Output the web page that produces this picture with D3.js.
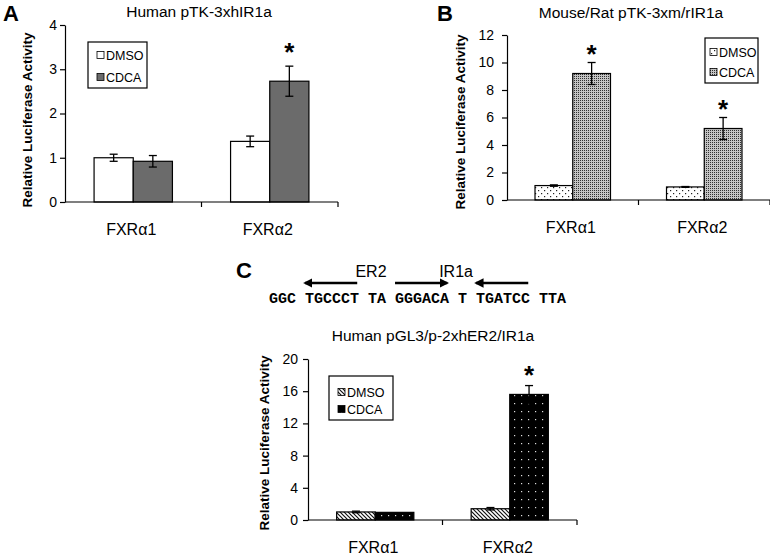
<!DOCTYPE html>
<html>
<head>
<meta charset="utf-8">
<script src="https://cdn.jsdelivr.net/npm/d3@7/dist/d3.min.js"></script>
<style>
body { margin: 0; background: #fff; }
svg text { font-family: Arial, "Liberation Sans", sans-serif; fill: #000; }
</style>
</head>
<body>
<svg id="fig" width="770" height="555"></svg>
<script>
"use strict";

var categories = ["FXRα1", "FXRα2"];
var seriesNames = ["DMSO", "CDCA"];

// Panel A - Human pTK-3xhIR1a
var aDmso = [1.00, 1.37], aDmsoErr = [0.08, 0.12];
var aCdca = [0.92, 2.73], aCdcaErr = [0.13, 0.34];
var aStars = [false, true];
var aTicks = [0, 1, 2, 3, 4];

// Panel B - Mouse/Rat pTK-3xm/rIR1a
var bDmso = [1.05, 0.95], bDmsoErr = [0.05, 0.03];
var bCdca = [9.2, 5.2], bCdcaErr = [0.8, 0.8];
var bStars = [true, true];
var bTicks = [0, 2, 4, 6, 8, 10, 12];

// Panel C - Human pGL3/p-2xhER2/IR1a
var cDmso = [1.0, 1.4], cDmsoErr = [0.1, 0.15];
var cCdca = [0.95, 15.6], cCdcaErr = [0, 1.1];
var cStars = [false, true];
var cTicks = [0, 4, 8, 12, 16, 20];

// promoter sequence above panel C, with the three half sites
var sequence = "GGC TGCCCT TA GGGACA T TGATCC TTA";
var halfSites = [
	{start: 4, len: 6, dir: -1},  // TGCCCT
	{start: 14, len: 6, dir: 1},  // GGGACA
	{start: 23, len: 6, dir: -1}  // TGATCC
];
var siteLabels = [{text: "ER2", at: 9.6}, {text: "IR1a", at: 18.9}];

var svg = d3.select("#fig");
var defs = svg.append("defs");

// Fill patterns, roughly what Excel gave
function makePattern(id, w, h, bg, build) {
	var p = defs.append("pattern")
		.attr("id", id)
		.attr("patternUnits", "userSpaceOnUse")
		.attr("width", w)
		.attr("height", h);
	p.append("rect").attr("width", w).attr("height", h).attr("fill", bg);
	build(p);
}
makePattern("sparseDots", 6, 6, "#fff", function(p) {
	p.append("rect").attr("x", 1).attr("y", 1).attr("width", 1.2).attr("height", 1.2).attr("fill", "#222");
	p.append("rect").attr("x", 4).attr("y", 4).attr("width", 1.2).attr("height", 1.2).attr("fill", "#222");
});
makePattern("denseDots", 2, 2, "#c4c4c4", function(p) {
	p.append("rect").attr("width", 1).attr("height", 1).attr("fill", "#303030");
});
makePattern("hatch", 4, 4, "#fff", function(p) {
	p.append("path").attr("d", "M-1,-1 L5,5 M-1,3 L1,5 M3,-1 L5,1")
		.attr("stroke", "#111").attr("stroke-width", 1.2);
});
makePattern("blackDots", 7, 8, "#000", function(p) {
	p.append("rect").attr("x", 3).attr("y", 3).attr("width", 1.2).attr("height", 1.2).attr("fill", "#ddd");
});

function drawPanel(p) {
	var g = svg.append("g");
	var x0 = d3.scaleBand().domain(categories).range([p.left, p.right]);
	var bw = x0.bandwidth();
	var x1 = d3.scaleBand().domain(seriesNames).range([bw * 0.213, bw * 0.787]);
	var y = d3.scaleLinear().domain([0, d3.max(p.ticks)]).range([p.bottom, p.top]);

	var rows = [];
	categories.forEach(function(c, i) {
		rows.push({cat: c, s: "DMSO", v: p.dmso[i], e: p.dmsoErr[i], star: false});
		rows.push({cat: c, s: "CDCA", v: p.cdca[i], e: p.cdcaErr[i], star: p.stars[i]});
	});

	// bars
	g.selectAll("rect.bar")
		.data(rows)
		.enter()
		.append("rect")
		.attr("class", "bar")
		.attr("x", function(d) { return x0(d.cat) + x1(d.s); })
		.attr("y", function(d) { return y(d.v); })
		.attr("width", x1.bandwidth())
		.attr("height", function(d) { return y(0) - y(d.v); })
		.attr("fill", function(d) { return p.fills[d.s]; })
		.attr("stroke", "#000")
		.attr("stroke-width", 1.2);

	// error bars
	var err = g.selectAll("g.err")
		.data(rows.filter(function(d) { return d.e > 0; }))
		.enter()
		.append("g")
		.attr("class", "err")
		.attr("transform", function(d) { return "translate(" + (x0(d.cat) + x1(d.s) + x1.bandwidth() / 2) + ",0)"; })
		.attr("stroke", "#000")
		.attr("stroke-width", 1.3);
	err.append("line")
		.attr("y1", function(d) { return y(d.v + d.e); })
		.attr("y2", function(d) { return y(d.v - d.e); });
	err.append("line")
		.attr("x1", -4).attr("x2", 4)
		.attr("y1", function(d) { return y(d.v + d.e); })
		.attr("y2", function(d) { return y(d.v + d.e); });
	err.append("line")
		.attr("x1", -4).attr("x2", 4)
		.attr("y1", function(d) { return y(d.v - d.e); })
		.attr("y2", function(d) { return y(d.v - d.e); });

	// significance stars
	g.selectAll("text.star")
		.data(rows.filter(function(d) { return d.star; }))
		.enter()
		.append("text")
		.attr("class", "star")
		.attr("x", function(d) { return x0(d.cat) + x1(d.s) + x1.bandwidth() / 2; })
		.attr("y", function(d) { return y(d.v + d.e) + p.starGap; })
		.attr("text-anchor", "middle")
		.style("font-size", "26px")
		.style("font-weight", "bold")
		.text("*");

	// y axis
	var yAxis = g.append("g")
		.attr("transform", "translate(" + p.left + ",0)")
		.call(d3.axisLeft(y).tickValues(p.ticks).tickFormat(d3.format("d"))
			.tickSize(5).tickSizeOuter(0).tickPadding(p.tickPad));
	yAxis.attr("font-size", null).attr("font-family", null);
	yAxis.selectAll("text").style("font-size", "14px");
	yAxis.selectAll("line, path").attr("stroke", "#000").attr("stroke-width", 1.2);

	// x axis with category boundary ticks
	g.append("line")
		.attr("x1", p.left).attr("x2", p.right)
		.attr("y1", y(0)).attr("y2", y(0))
		.attr("stroke", "#000").attr("stroke-width", 1.2);
	g.selectAll("line.xtick")
		.data(categories)
		.enter()
		.append("line")
		.attr("class", "xtick")
		.attr("x1", function(c) { return x0(c) + bw; })
		.attr("x2", function(c) { return x0(c) + bw; })
		.attr("y1", y(0)).attr("y2", y(0) + 5)
		.attr("stroke", "#000").attr("stroke-width", 1.2);
	g.selectAll("text.cat")
		.data(categories)
		.enter()
		.append("text")
		.attr("class", "cat")
		.attr("x", function(c) { return x0(c) + bw / 2 - 2; })
		.attr("y", y(0) + 33)
		.attr("text-anchor", "middle")
		.style("font-size", "16px")
		.text(function(c) { return c; });

	// y label
	g.append("text")
		.attr("transform", "translate(" + p.ylabX + "," + p.ylabY + ") rotate(-90)")
		.attr("text-anchor", "middle")
		.style("font-size", "13.5px")
		.style("font-weight", "bold")
		.text("Relative Luciferase Activity");

	// title
	g.append("text")
		.attr("x", p.titleX).attr("y", p.titleY)
		.attr("text-anchor", "middle")
		.style("font-size", "15.5px")
		.text(p.title);

	// panel letter
	g.append("text")
		.attr("x", p.letterX).attr("y", p.letterY)
		.style("font-size", "22px")
		.style("font-weight", "bold")
		.text(p.letter);

	// legend
	var lg = g.append("g").attr("transform", "translate(" + p.legend.x + "," + p.legend.y + ")");
	lg.append("rect")
		.attr("width", p.legend.w).attr("height", p.legend.h)
		.attr("fill", "#fff").attr("stroke", "#000").attr("stroke-width", 1.2);
	var entry = lg.selectAll("g.entry")
		.data(seriesNames)
		.enter()
		.append("g")
		.attr("class", "entry")
		.attr("transform", function(s, i) { return "translate(" + p.legend.pad + "," + (p.legend.row0 + i * p.legend.step) + ")"; });
	entry.append("rect")
		.attr("x", 0).attr("y", -3.5)
		.attr("width", 7).attr("height", 7)
		.attr("fill", function(s) { return p.fills[s]; })
		.attr("stroke", "#000").attr("stroke-width", 0.8);
	entry.append("text")
		.attr("x", 9).attr("y", 4.5)
		.style("font-size", "12.5px")
		.text(function(s) { return s; });
}

drawPanel({
	letter: "A", letterX: 3, letterY: 21,
	title: "Human pTK-3xhIR1a", titleX: 199, titleY: 17,
	left: 65, right: 338, top: 25, bottom: 202,
	ticks: aTicks, tickPad: 3,
	ylabX: 32, ylabY: 120,
	dmso: aDmso, dmsoErr: aDmsoErr, cdca: aCdca, cdcaErr: aCdcaErr, stars: aStars,
	starGap: -5,
	fills: {DMSO: "#fff", CDCA: "#6b6b6b"},
	legend: {x: 88, y: 42, w: 59, h: 46, pad: 9, row0: 13, step: 22}
});

drawPanel({
	letter: "B", letterX: 437, letterY: 21,
	title: "Mouse/Rat pTK-3xm/rIR1a", titleX: 631, titleY: 18,
	left: 507, right: 770, top: 35, bottom: 200,
	ticks: bTicks, tickPad: 8,
	ylabX: 465, ylabY: 122,
	dmso: bDmso, dmsoErr: bDmsoErr, cdca: bCdca, cdcaErr: bCdcaErr, stars: bStars,
	starGap: 0,
	fills: {DMSO: "url(#sparseDots)", CDCA: "url(#denseDots)"},
	legend: {x: 705, y: 38, w: 53, h: 45, pad: 5, row0: 14, step: 20}
});

drawPanel({
	letter: "C", letterX: 236, letterY: 278,
	title: "Human pGL3/p-2xhER2/IR1a", titleX: 433, titleY: 341,
	left: 308, right: 577, top: 359, bottom: 520,
	ticks: cTicks, tickPad: 5,
	ylabX: 269, ylabY: 443,
	dmso: cDmso, dmsoErr: cDmsoErr, cdca: cCdca, cdcaErr: cCdcaErr, stars: cStars,
	starGap: -2,
	fills: {DMSO: "url(#hatch)", CDCA: "url(#blackDots)"},
	legend: {x: 329, y: 376, w: 64, h: 44, pad: 9, row0: 16, step: 17}
});

// sequence with half-site arrows
var seqX = 269, seqY = 303;
var seqText = svg.append("text")
	.attr("x", seqX).attr("y", seqY)
	.attr("xml:space", "preserve")
	.style("font-family", "'Courier New', 'Liberation Mono', monospace")
	.style("font-size", "15px")
	.style("font-weight", "bold")
	.text(sequence);
var charW = seqText.node().getComputedTextLength() / sequence.length;

defs.append("marker")
	.attr("id", "head")
	.attr("viewBox", "0 0 10 10")
	.attr("refX", 8).attr("refY", 5)
	.attr("markerWidth", 3.6).attr("markerHeight", 3.6)
	.attr("orient", "auto")
	.append("path")
	.attr("d", "M0,0 L10,5 L0,10 Z")
	.attr("fill", "#000");

svg.selectAll("line.site")
	.data(halfSites)
	.enter()
	.append("line")
	.attr("class", "site")
	.attr("x1", function(d) { return seqX + (d.dir > 0 ? d.start : d.start + d.len - 0.2) * charW; })
	.attr("x2", function(d) { return seqX + (d.dir > 0 ? d.start + d.len - 0.2 : d.start) * charW; })
	.attr("y1", 283).attr("y2", 283)
	.attr("stroke", "#000")
	.attr("stroke-width", 2.6)
	.attr("marker-end", "url(#head)");

svg.selectAll("text.site")
	.data(siteLabels)
	.enter()
	.append("text")
	.attr("class", "site")
	.attr("x", function(d) { return seqX + d.at * charW; })
	.attr("y", 277)
	.style("font-size", "16px")
	.text(function(d) { return d.text; });
</script>
</body>
</html>
